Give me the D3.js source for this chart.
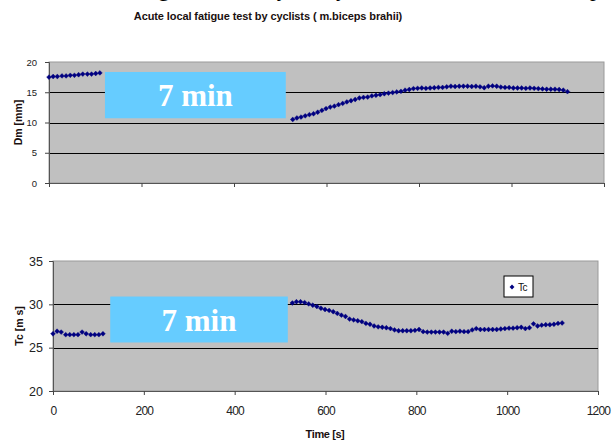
<!DOCTYPE html>
<html>
<head>
<meta charset="utf-8">
<script src="https://cdn.jsdelivr.net/npm/d3@7"></script>
<style>
  body { margin: 0; background: #fff; }
  svg { display: block; overflow: hidden; }
  text { font-family: "Liberation Sans", Arial, sans-serif; }
</style>
</head>
<body>
<svg id="chart" width="612" height="441"></svg>
<script>
// times in seconds, before and after the 7 min load
var preTime = [0, 9, 18, 28, 37, 46, 55, 64, 73, 83, 92, 101, 110];
var postTime = [527, 536, 545, 554, 563, 572, 581, 590, 599, 608, 617, 626, 635, 644, 653, 662, 671, 680,
  689, 698, 707, 716, 725, 734, 743, 752, 761, 770, 779, 788, 797, 806, 815, 824, 833, 842, 851, 860,
  869, 878, 887, 896, 905, 914, 923, 932, 941, 950, 959, 968, 977, 986, 995, 1004, 1013, 1022, 1031,
  1040, 1049, 1058, 1067, 1076, 1085, 1094, 1103, 1112, 1121];

var dmPre = [17.5, 17.6, 17.6, 17.7, 17.7, 17.8, 17.8, 17.9, 18.0, 18.0, 18.0, 18.1, 18.2];
var dmPost = [10.5, 10.75, 10.9, 11.1, 11.3, 11.45, 11.7, 12.0, 12.3, 12.55, 12.7, 12.95, 13.15, 13.4,
  13.6, 13.8, 14.05, 14.15, 14.2, 14.4, 14.5, 14.6, 14.75, 14.85, 14.95, 15.05, 15.15, 15.35, 15.45,
  15.6, 15.65, 15.7, 15.65, 15.7, 15.75, 15.8, 15.8, 15.9, 16.0, 15.95, 16.0, 16.0, 16.0, 15.95, 16.0,
  15.9, 15.75, 16.0, 16.05, 16.0, 15.85, 15.8, 15.8, 15.7, 15.7, 15.7, 15.65, 15.7, 15.65, 15.6, 15.55,
  15.5, 15.5, 15.5, 15.45, 15.35, 15.1];

var tcPre = [26.6, 26.9, 26.8, 26.5, 26.5, 26.5, 26.5, 26.8, 26.6, 26.5, 26.5, 26.5, 26.6];
var tcPost = [30.15, 30.3, 30.3, 30.2, 30.05, 29.9, 29.75, 29.55, 29.4, 29.3, 29.15, 28.95, 28.75, 28.6,
  28.3, 28.2, 28.1, 28.0, 27.8, 27.7, 27.5, 27.4, 27.35, 27.3, 27.2, 27.05, 26.95, 26.95, 26.95, 26.95,
  27.0, 27.1, 26.85, 26.8, 26.8, 26.8, 26.8, 26.8, 26.65, 26.9, 26.85, 26.9, 26.85, 26.85, 27.05, 27.2,
  27.1, 27.1, 27.1, 27.1, 27.1, 27.15, 27.2, 27.25, 27.25, 27.3, 27.35, 27.2, 27.3, 27.75, 27.5, 27.6,
  27.65, 27.65, 27.7, 27.8, 27.85];

var xTicks = [0, 200, 400, 600, 800, 1000, 1200];
var dmTicks = [0, 5, 10, 15, 20];
var tcTicks = [20, 25, 30, 35];

// the shaded "7 min" box, in data units [t0, t1, v0, v1]
var dmPause = [121, 512, 10.7, 18.35];
var tcPause = [126, 517, 25.6, 30.9];

var svg = d3.select("#chart");

// tail of the page text above the figure, mostly cut off
svg.append("text")
  .attr("x", 4).attr("y", -4)
  .style("font-family", "'Liberation Serif','Times New Roman',serif")
  .style("font-size", "23px")
  .text("and the local fatigue was analysed by the method of TMG as expected.");

svg.append("text")
  .attr("x", 268).attr("y", 20)
  .attr("text-anchor", "middle")
  .style("font-size", "11px").style("font-weight", "bold")
  .style("letter-spacing", "-0.1px")
  .attr("fill", "#1a1010")
  .text("Acute local fatigue test  by cyclists ( m.biceps brahii)");

var drawPanel = function(cfg){
  var x = d3.scaleLinear().domain([0, 1200]).range(cfg.xr);
  var y = d3.scaleLinear().domain(cfg.yd).range(cfg.yr);
  var g = svg.append("g");

  g.append("rect")
    .attr("x", cfg.xr[0]).attr("y", cfg.yr[1])
    .attr("width", cfg.xr[1] - cfg.xr[0]).attr("height", cfg.yr[0] - cfg.yr[1])
    .attr("fill", "#c0c0c0")
    .attr("stroke", "#9a9a9a");

  // gridlines
  g.selectAll("line.grid")
    .data(cfg.yTicks.slice(1, -1))
    .enter().append("line")
    .attr("class", "grid")
    .attr("x1", cfg.xr[0]).attr("x2", cfg.xr[1])
    .attr("y1", function(d){ return Math.round(y(d)) + 0.5; })
    .attr("y2", function(d){ return Math.round(y(d)) + 0.5; })
    .attr("stroke", "#000").attr("stroke-width", 1);

  var yAxis = g.append("g")
    .attr("transform", "translate(" + cfg.xr[0] + ",0)")
    .call(d3.axisLeft(y).tickValues(cfg.yTicks).tickSize(4).tickPadding(cfg.yPad).tickFormat(d3.format("d")));
  yAxis.selectAll("text").style("font-size", cfg.tickFont).attr("fill", "#222");

  var xAxis = g.append("g")
    .attr("transform", "translate(0," + cfg.yr[0] + ")")
    .call(d3.axisBottom(x).tickValues(xTicks).tickSize(4).tickPadding(11)
      .tickFormat(cfg.xLabels ? d3.format("d") : ""));
  xAxis.selectAll("text").style("font-size", "12px").style("letter-spacing", "-0.8px").attr("fill", "#222");
  [yAxis, xAxis].forEach(function(a){
    a.select(".domain").attr("stroke", "#555");
    a.selectAll(".tick line").attr("stroke", "#444");
  });

  // annotation box
  var b = cfg.pause;
  g.append("rect")
    .attr("x", x(b[0])).attr("y", y(b[3]))
    .attr("width", x(b[1]) - x(b[0])).attr("height", y(b[2]) - y(b[3]))
    .attr("fill", "#66ccff");
  g.append("text")
    .attr("x", (x(b[0]) + x(b[1])) / 2)
    .attr("y", (y(b[2]) + y(b[3])) / 2 + 11)
    .attr("text-anchor", "middle")
    .style("font-family", "'Liberation Serif','Times New Roman',serif")
    .style("font-size", "31px").style("font-weight", "bold")
    .attr("fill", "#fff")
    .text("7 min");

  var pts = [];
  preTime.forEach(function(t, i){ pts.push([t, cfg.pre[i]]); });
  postTime.forEach(function(t, i){ pts.push([t, cfg.post[i]]); });
  var sym = d3.symbol().type(d3.symbolDiamond2).size(15);
  g.selectAll("path.pt")
    .data(pts)
    .enter().append("path")
    .attr("class", "pt")
    .attr("transform", function(d){ return "translate(" + x(d[0]) + "," + y(d[1]) + ")"; })
    .attr("d", sym)
    .attr("fill", "#000080")
    .attr("stroke", "#000080").attr("stroke-width", 0.4);

  // axis title
  g.append("text")
    .attr("transform", "translate(" + cfg.titleX + "," + ((cfg.yr[0] + cfg.yr[1]) / 2) + ") rotate(-90)")
    .attr("text-anchor", "middle")
    .style("font-size", "10.5px").style("font-weight", "bold")
    .attr("fill", "#1a1010")
    .text(cfg.title);

  return {x: x, y: y, g: g};
};

drawPanel({
  xr: [49, 604], yr: [183, 62], yd: [0, 20], yTicks: dmTicks,
  pre: dmPre, post: dmPost, pause: dmPause,
  tickFont: "9.5px", yPad: 8, xLabels: false,
  title: "Dm [mm]", titleX: 22
});

var bottom = drawPanel({
  xr: [53, 598], yr: [391, 261], yd: [20, 35], yTicks: tcTicks,
  pre: tcPre, post: tcPost, pause: tcPause,
  tickFont: "12.5px", yPad: 6, xLabels: true,
  title: "Tc [m s]", titleX: 23
});

svg.append("text")
  .attr("x", 325).attr("y", 438)
  .attr("text-anchor", "middle")
  .style("font-size", "11px").style("font-weight", "bold")
  .style("letter-spacing", "-0.4px")
  .attr("fill", "#1a1010")
  .text("Time [s]");

// legend
var leg = bottom.g.append("g").attr("transform", "translate(504,276)");
leg.append("rect").attr("width", 29).attr("height", 21).attr("fill", "#fff").attr("stroke", "#000");
leg.append("path").attr("transform", "translate(8,11)").attr("d", d3.symbol().type(d3.symbolDiamond2).size(15)).attr("fill", "#000080");
leg.append("text").attr("x", 14).attr("y", 15).style("font-size", "10px").style("letter-spacing", "-0.5px").attr("fill", "#111").text("Tc");
</script>
</body>
</html>
